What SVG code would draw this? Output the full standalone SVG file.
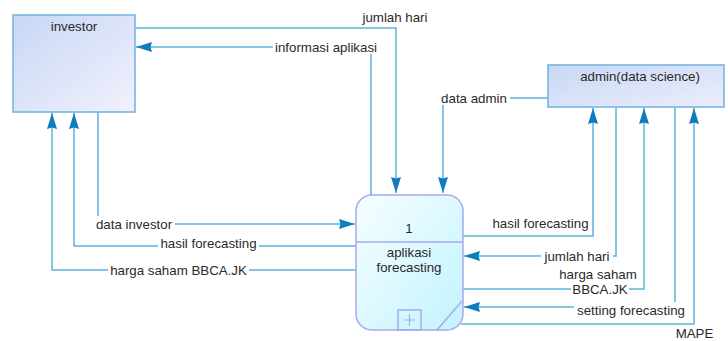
<svg xmlns="http://www.w3.org/2000/svg" width="728" height="341" viewBox="0 0 728 341">
<defs>
<linearGradient id="gEnt" x1="0" y1="0" x2="1" y2="1">
<stop offset="0" stop-color="#c8d7f5"/>
<stop offset="1" stop-color="#f1f1fc"/>
</linearGradient>
<linearGradient id="gAdm" x1="0" y1="0" x2="1" y2="1">
<stop offset="0" stop-color="#c8d8f5"/>
<stop offset="1" stop-color="#ecedfb"/>
</linearGradient>
<linearGradient id="gProc" x1="0" y1="0" x2="1" y2="1">
<stop offset="0" stop-color="#f7feff"/>
<stop offset="1" stop-color="#c2f3fe"/>
</linearGradient>
<marker id="arr" markerUnits="userSpaceOnUse" markerWidth="18" markerHeight="12" refX="16" refY="5" orient="auto">
<path d="M0,0 L16,5 L0,10 L1.5,5 z" fill="#0e7cc0"/>
</marker>
</defs>
<style>
.ent{stroke:#78b6e0;stroke-width:1.6}
.proc{stroke:#a8a8f2;stroke-width:1.5}
.c{fill:none;stroke:#5db2e0;stroke-width:1.5}
.a{marker-end:url(#arr)}
text{font-family:"Liberation Sans",Arial,sans-serif;font-size:13.3px;fill:#2a2a2a}
.bg{fill:#ffffff}
</style>
<rect width="728" height="341" fill="#ffffff"/>

<g id="connectors">
<path class="c a" d="M135,28 H396 V193"/>
<path class="c a" d="M371,195 V47 H136"/>
<path class="c a" d="M548,98 H443 V193"/>
<path class="c a" d="M98,112 V224 H355"/>
<path class="c a" d="M356,246 H74 V113"/>
<path class="c a" d="M356,270 H52 V113"/>
<path class="c a" d="M463,236 H593 V108"/>
<path class="c a" d="M616,107 V256 H464"/>
<path class="c a" d="M462,289 H644 V108"/>
<path class="c a" d="M675,107 V307 H464"/>
<path class="c a" d="M461,324 H694 V108"/>
</g>

<g id="labels">
<rect class="bg" x="360" y="10" width="70" height="15"/>
<text x="395" y="22" text-anchor="middle">jumlah hari</text>
<rect class="bg" x="273" y="39" width="106" height="15"/>
<text x="326" y="52" text-anchor="middle">informasi aplikasi</text>
<rect class="bg" x="438" y="90" width="72" height="15"/>
<text x="474" y="103" text-anchor="middle">data admin</text>
<rect class="bg" x="93" y="216" width="82" height="15"/>
<text x="134" y="229" text-anchor="middle">data investor</text>
<rect class="bg" x="158" y="236" width="101" height="15"/>
<text x="208.5" y="248" text-anchor="middle">hasil forecasting</text>
<rect class="bg" x="108" y="262" width="141" height="15"/>
<text x="178.5" y="275" text-anchor="middle">harga saham BBCA.JK</text>
<text x="540.5" y="228" text-anchor="middle">hasil forecasting</text>
<rect class="bg" x="541" y="248" width="72" height="15"/>
<text x="577" y="261" text-anchor="middle">jumlah hari</text>
<text x="598" y="279" text-anchor="middle">harga saham</text>
<rect class="bg" x="571" y="282" width="58" height="14"/>
<text x="600" y="294" text-anchor="middle">BBCA.JK</text>
<rect class="bg" x="574" y="302" width="114" height="15"/>
<text x="631" y="315" text-anchor="middle">setting forecasting</text>
<text x="694.5" y="338" text-anchor="middle">MAPE</text>
</g>

<g id="investor">
<rect class="ent" x="13" y="15" width="122" height="97" fill="url(#gEnt)"/>
<text x="74" y="31" text-anchor="middle">investor</text>
</g>

<g id="admin">
<rect class="ent" x="548" y="65" width="176" height="42" fill="url(#gAdm)"/>
<text x="640" y="81" text-anchor="middle">admin(data science)</text>
</g>

<g id="process1">
<rect class="proc" x="356" y="195" width="107" height="135" rx="16" ry="16" fill="url(#gProc)"/>
<line class="proc" x1="356" y1="242" x2="463" y2="242"/>
<text x="409" y="233" text-anchor="middle">1</text>
<text x="409" y="257" text-anchor="middle">aplikasi</text>
<text x="409" y="272" text-anchor="middle">forecasting</text>
<rect class="proc" x="398" y="310" width="23" height="20" fill="none"/>
<path d="M404,320 H415 M409.5,314 V326" stroke="#a8a8f2" stroke-width="1.2" fill="none"/>
<line class="proc" x1="437" y1="330" x2="462" y2="301"/>
</g>
</svg>
